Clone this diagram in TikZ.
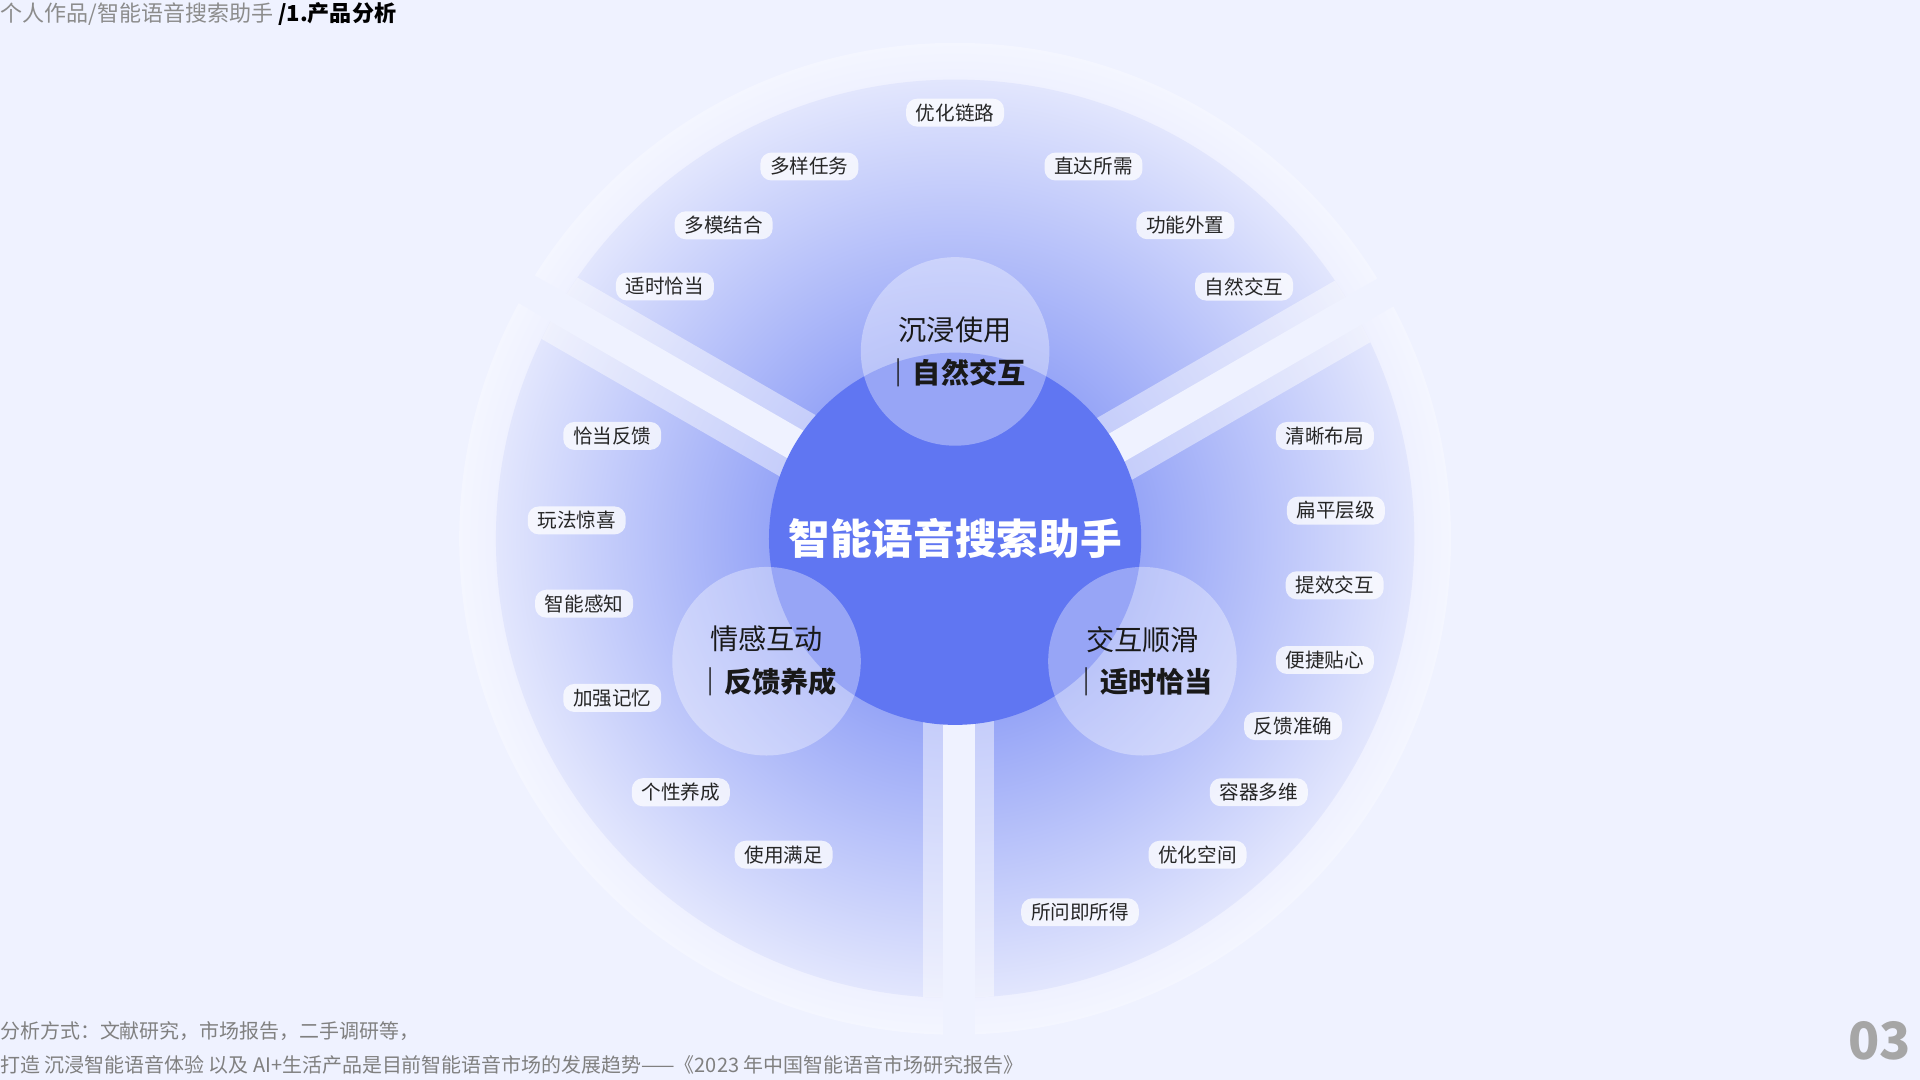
\documentclass[tikz,border=0pt]{standalone}
\usepackage{fontspec}
\setmainfont{Noto Sans CJK SC}
\begin{document}
\begin{tikzpicture}[x=1pt,y=-1pt,
  pill/.style={fill=white,fill opacity=0.75,text opacity=1,rounded corners=9pt,inner xsep=8pt,inner ysep=4pt,font=\fontsize{16}{18}\selectfont,text=black!85},
  bubble/.style={circle,fill=white,fill opacity=0.35,minimum size=154pt,inner sep=0pt},
  btext/.style={align=center,font=\fontsize{23}{35}\selectfont,text=black!90}]
\definecolor{bg}{HTML}{EFF2FF}
\fill[bg] (0,0) rectangle (1568,882);
\useasboundingbox (0,0) rectangle (1568,882);
\coordinate (c) at (780,440);
\coordinate (cg) at (783,440);
\shade[inner color=blue!25!bg, outer color=bg!70!white] (c) circle (405);
\shade[inner color={rgb,255:red,100;green,122;blue,243}, outer color={rgb,255:red,226;green,230;blue,253}] (c) circle (375);
\begin{scope}
\clip (c) circle (375);
\foreach \a in {30,150,270}{\draw[white,opacity=0.45,line width=58pt] (cg) -- ++(-\a:430);}
\end{scope}
\foreach \a in {30,150,270}{\draw[bg,line width=26pt] (cg) -- ++(-\a:430);}
\fill[bg] (0,0) rectangle (1568,30);
\node[circle,fill={rgb,255:red,96;green,118;blue,242},minimum size=304pt,inner sep=0pt] (core) at (c) {};
\node[font=\fontsize{34}{36}\selectfont\bfseries,text=white] (title) at (780,440) {智能语音搜索助手};
\node[bubble] (b1) at (780,287) {};
\node[bubble] (b2) at (626,540) {};
\node[bubble] (b3) at (933,540) {};
\node[btext] at (b1) {沉浸使用\\\textbf{｜自然交互}};
\node[btext] at (b2) {情感互动\\\textbf{｜反馈养成}};
\node[btext] at (b3) {交互顺滑\\\textbf{｜适时恰当}};
\foreach \t/\x/\y [count=\i] in {优化链路/780/92,多样任务/661/136,直达所需/893/136,多模结合/591/184,功能外置/968/184,适时恰当/543/234,自然交互/1016/234,
 恰当反馈/500/356,玩法惊喜/471/425,智能感知/477/493,加强记忆/500/570,个性养成/556/647,使用满足/640/698,
 清晰布局/1082/356,扁平层级/1091/417,提效交互/1090/478,便捷贴心/1082/539,反馈准确/1056/593,容器多维/1028/647,优化空间/978/698,所问即所得/882/745}
 {\node[pill] (p\i) at (\x,\y) {\t};}
\node[anchor=north west,inner sep=0pt,font=\fontsize{18}{20}\selectfont] (hdr) at (0,2) {\textcolor{black!45}{个人作品/智能语音搜索助手} \textbf{/1.产品分析}};
\node[anchor=west,inner sep=0pt,font=\fontsize{16.3}{18}\selectfont,text=black!50] (f1) at (0,842) {分析方式：文献研究，市场报告，二手调研等，};
\node[anchor=west,inner sep=0pt,font=\fontsize{16.3}{18}\selectfont,text=black!50] (f2) at (0,870) {打造 沉浸智能语音体验 以及 AI+生活产品是目前智能语音市场的发展趋势——《2023 年中国智能语音市场研究报告》};
\node[font=\fontsize{42}{44}\selectfont\bfseries,text=black!35] (pg) at (1535,850) {03};
\end{tikzpicture}
\end{document}
